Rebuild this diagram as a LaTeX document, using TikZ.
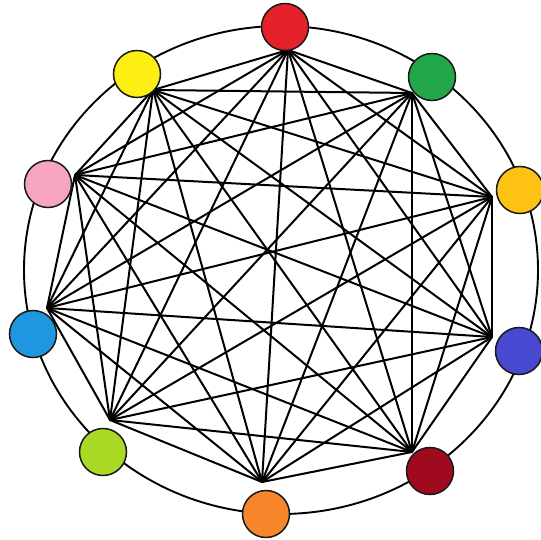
\documentclass[tikz,border=0pt]{standalone}
\definecolor{cRed}{HTML}{E5222A}
\definecolor{cGreen}{HTML}{22A84A}
\definecolor{cGold}{HTML}{FDC212}
\definecolor{cBlue}{HTML}{4848D0}
\definecolor{cDark}{HTML}{A00A1E}
\definecolor{cOrange}{HTML}{F7862A}
\definecolor{cLime}{HTML}{AAD926}
\definecolor{cSky}{HTML}{1E96E0}
\definecolor{cPink}{HTML}{F5A5C2}
\definecolor{cYellow}{HTML}{FDEE14}
\begin{document}
\begin{tikzpicture}[x=1pt,y=-1pt,
  dot/.style={circle,draw=black!90,line width=1.5pt,minimum size=47pt,inner sep=0pt},
  link/.style={line width=2pt,line cap=round}]
\useasboundingbox (0,0) rectangle (541,540);
\draw[line width=1.9pt] (281,270) ellipse [x radius=257pt, y radius=244pt];
% hubs
\coordinate (h1) at (288,50);
\coordinate (h2) at (412,93);
\coordinate (h3) at (492,197);
\coordinate (h4) at (492,337);
\coordinate (h5) at (412,452);
\coordinate (h6) at (262,482);
\coordinate (h7) at (110,420);
\coordinate (h8) at (47,308);
\coordinate (h9) at (75,175);
\coordinate (h10) at (153,90);
\foreach \i in {1,...,9}{
  \pgfmathtruncatemacro{\s}{\i+1}
  \foreach \j in {\s,...,10}{
    \draw[link] (h\i) -- (h\j);
  }
}
\node[dot,fill=cRed]    (n1)  at (285,27)  {};
\node[dot,fill=cGreen]  (n2)  at (432,77)  {};
\node[dot,fill=cGold]   (n3)  at (520,190) {};
\node[dot,fill=cBlue]   (n4)  at (519,351) {};
\node[dot,fill=cDark]   (n5)  at (430,471) {};
\node[dot,fill=cOrange] (n6)  at (266,514) {};
\node[dot,fill=cLime]   (n7)  at (103,452) {};
\node[dot,fill=cSky]    (n8)  at (33,334)  {};
\node[dot,fill=cPink]   (n9)  at (48,184)  {};
\node[dot,fill=cYellow] (n10) at (137,74)  {};
\end{tikzpicture}
\end{document}
